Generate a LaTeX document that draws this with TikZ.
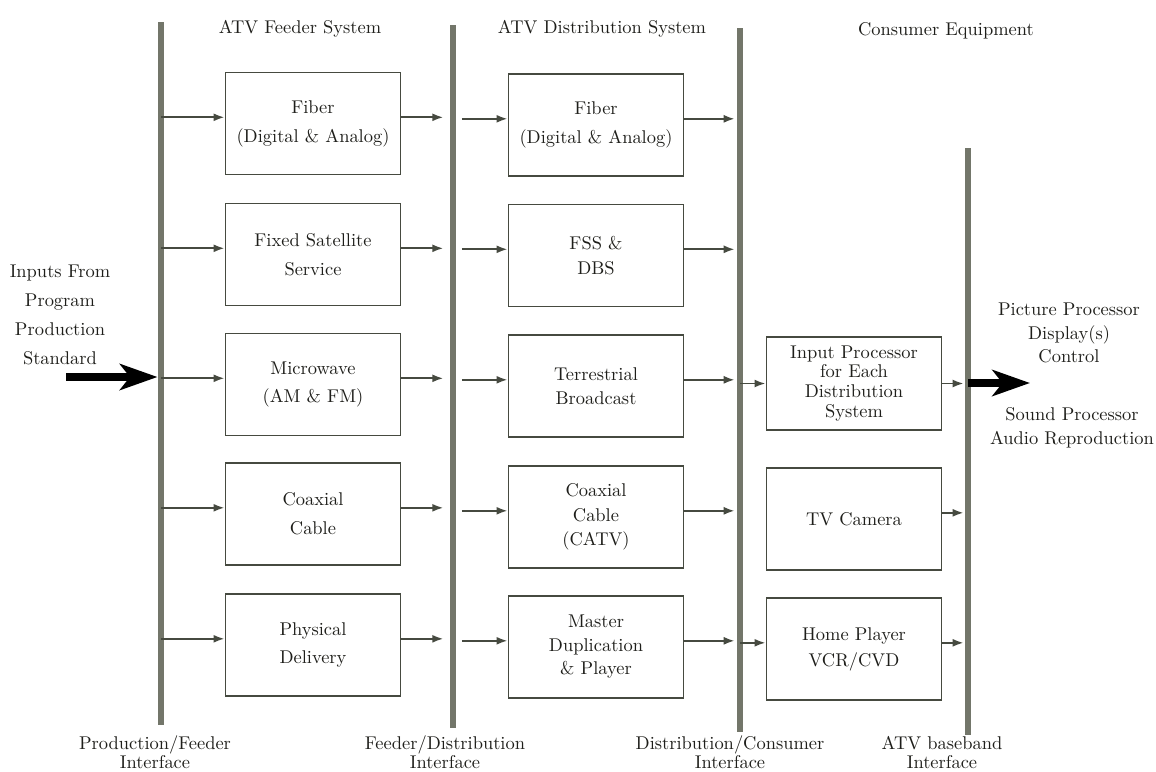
\documentclass[tikz,border=0pt]{standalone}
\usepackage{tikz}
\usetikzlibrary{arrows.meta}
\definecolor{atvbar}{RGB}{115,118,106}
\definecolor{atvline}{RGB}{70,74,64}
\definecolor{atvtext}{RGB}{30,30,26}
\tikzset{
  stage/.style={draw=atvline, line width=1.1pt, minimum width=3.5cm,
    minimum height=2.04cm, align=center, text=atvtext,
    font=\fontsize{10.5}{16.4}\selectfont},
  iface/.style={atvbar, line width=3.4pt},
  feed/.style={atvline, line width=1.1pt, -{Latex[length=2.2mm,width=1.6mm]}},
  fatarrow/.style={black, line width=4.2pt, -{Stealth[length=7.5mm,width=5.2mm,inset=2mm]}},
  caption/.style={align=center, text=atvtext, font=\fontsize{10.5}{16.4}\selectfont},
  ifacename/.style={caption, inner sep=1pt, font=\fontsize{10.5}{10.8}\selectfont},
}
\begin{document}
\begin{tikzpicture}[x=0.02cm, y=-0.02cm]
  \useasboundingbox (0,0) rectangle (1156,771);
  % Interface bars
  \coordinate (b1t) at (161,22);  \coordinate (b1b) at (161,725);
  \coordinate (b2t) at (453,25);  \coordinate (b2b) at (453,728);
  \coordinate (b3t) at (740,28);  \coordinate (b3b) at (740,732);
  \coordinate (b4t) at (968,148); \coordinate (b4b) at (968,735);
  \draw[iface] (b1t) -- (b1b);
  \draw[iface] (b2t) -- (b2b);
  \draw[iface] (b3t) -- (b3b);
  \draw[iface] (b4t) -- (b4b);
  % Column headings
  \node[caption] (feederhead) at (300,29) {ATV Feeder System};
  \node[caption] (disthead) at (602,29) {ATV Distribution System};
  \node[caption] (consumerhead) at (946,31) {Consumer Equipment};
  % Feeder system
  \node[stage] (f1) at (313,123.5) {Fiber\\(Digital \& Analog)};
  \node[stage] (f2) at (313,254.5) {Fixed Satellite\\Service};
  \node[stage] (f3) at (313,384.5) {Microwave\\(AM \& FM)};
  \node[stage] (f4) at (313,514) {Coaxial\\Cable};
  \node[stage] (f5) at (313,645) {Physical\\Delivery};
  % Distribution system
  \node[stage] (d1) at (596,125) {Fiber\\(Digital \& Analog)};
  \node[stage, font=\fontsize{10.5}{14}\selectfont] (d2) at (596,255.5) {FSS \&\\DBS};
  \node[stage, font=\fontsize{10.5}{13.4}\selectfont] (d3) at (596,386) {Terrestrial\\Broadcast};
  \node[stage, font=\fontsize{10.5}{13.8}\selectfont] (d4) at (596,517) {Coaxial\\Cable\\(CATV)};
  \node[stage, font=\fontsize{10.5}{13.4}\selectfont] (d5) at (596,647) {Master\\Duplication\\\& Player};
  % Consumer equipment
  \node[stage, minimum height=1.86cm, font=\fontsize{10.5}{11.3}\selectfont] (c1) at (854,383.5) {Input Processor\\for Each\\Distribution\\System};
  \node[stage] (c2) at (854,519) {TV Camera};
  \node[stage, font=\fontsize{10.5}{14.7}\selectfont] (c3) at (854,649) {Home Player\\VCR/CVD};
  % Feeds across the interfaces
  \draw[feed] (f1.176 -| b1t) -- (f1.176);
  \draw[feed] (f2.176 -| b1t) -- (f2.176);
  \draw[feed] (f3.176 -| b1t) -- (f3.176);
  \draw[feed] (f4.176 -| b1t) -- (f4.176);
  \draw[feed] (f5.176 -| b1t) -- (f5.176);
  \draw[feed, shorten >=5.5pt] (f1.4) -- (f1.4 -| b2t);
  \draw[feed, shorten >=5.5pt] (f2.4) -- (f2.4 -| b2t);
  \draw[feed, shorten >=5.5pt] (f3.4) -- (f3.4 -| b2t);
  \draw[feed, shorten >=5.5pt] (f4.4) -- (f4.4 -| b2t);
  \draw[feed, shorten >=5.5pt] (f5.4) -- (f5.4 -| b2t);
  \draw[feed, shorten <=5pt] (d1.176 -| b2t) -- (d1.176);
  \draw[feed, shorten <=5pt] (d2.176 -| b2t) -- (d2.176);
  \draw[feed, shorten <=5pt] (d3.176 -| b2t) -- (d3.176);
  \draw[feed, shorten <=5pt] (d4.176 -| b2t) -- (d4.176);
  \draw[feed, shorten <=5pt] (d5.176 -| b2t) -- (d5.176);
  \draw[feed, shorten >=3pt] (d1.4) -- (d1.4 -| b3t);
  \draw[feed, shorten >=3pt] (d2.4) -- (d2.4 -| b3t);
  \draw[feed, shorten >=3pt] (d3.4) -- (d3.4 -| b3t);
  \draw[feed, shorten >=3pt] (d4.4) -- (d4.4 -| b3t);
  \draw[feed, shorten >=3pt] (d5.4) -- (d5.4 -| b3t);
  \draw[feed] (c1.west -| b3t) -- (c1.west);
  \draw[feed] (c3.176 -| b3t) -- (c3.176);
  \draw[feed, shorten >=2.5pt] (c1.east) -- (c1.east -| b4t);
  \draw[feed, shorten >=2.5pt] (c2.4) -- (c2.4 -| b4t);
  \draw[feed, shorten >=2.5pt] (c3.4) -- (c3.4 -| b4t);
  % Programme input and consumer output
  \node[caption] (inputs) at (60,315) {Inputs From\\Program\\Production\\Standard};
  \coordinate (src) at (66,377);
  \draw[fatarrow, shorten >=2pt] (src) -- (src -| b1t);
  \coordinate (sink) at (1030,383);
  \draw[fatarrow] (sink -| b4t) -- (sink);
  \node[caption, font=\fontsize{10.5}{13.6}\selectfont] (picture) at (1069,333) {Picture Processor\\Display(s)\\Control};
  \node[caption, font=\fontsize{10.5}{13.6}\selectfont] (sound) at (1072,428) {Sound Processor\\Audio Reproduction};
  % Interface names
  \node[ifacename] (pfi) at (155,752) {Production/Feeder\\Interface};
  \node[ifacename] (fdi) at (445,752) {Feeder/Distribution\\Interface};
  \node[ifacename] (dci) at (730,752) {Distribution/Consumer\\Interface};
  \node[ifacename] (bbi) at (942,752) {ATV baseband\\Interface};
\end{tikzpicture}
\end{document}
